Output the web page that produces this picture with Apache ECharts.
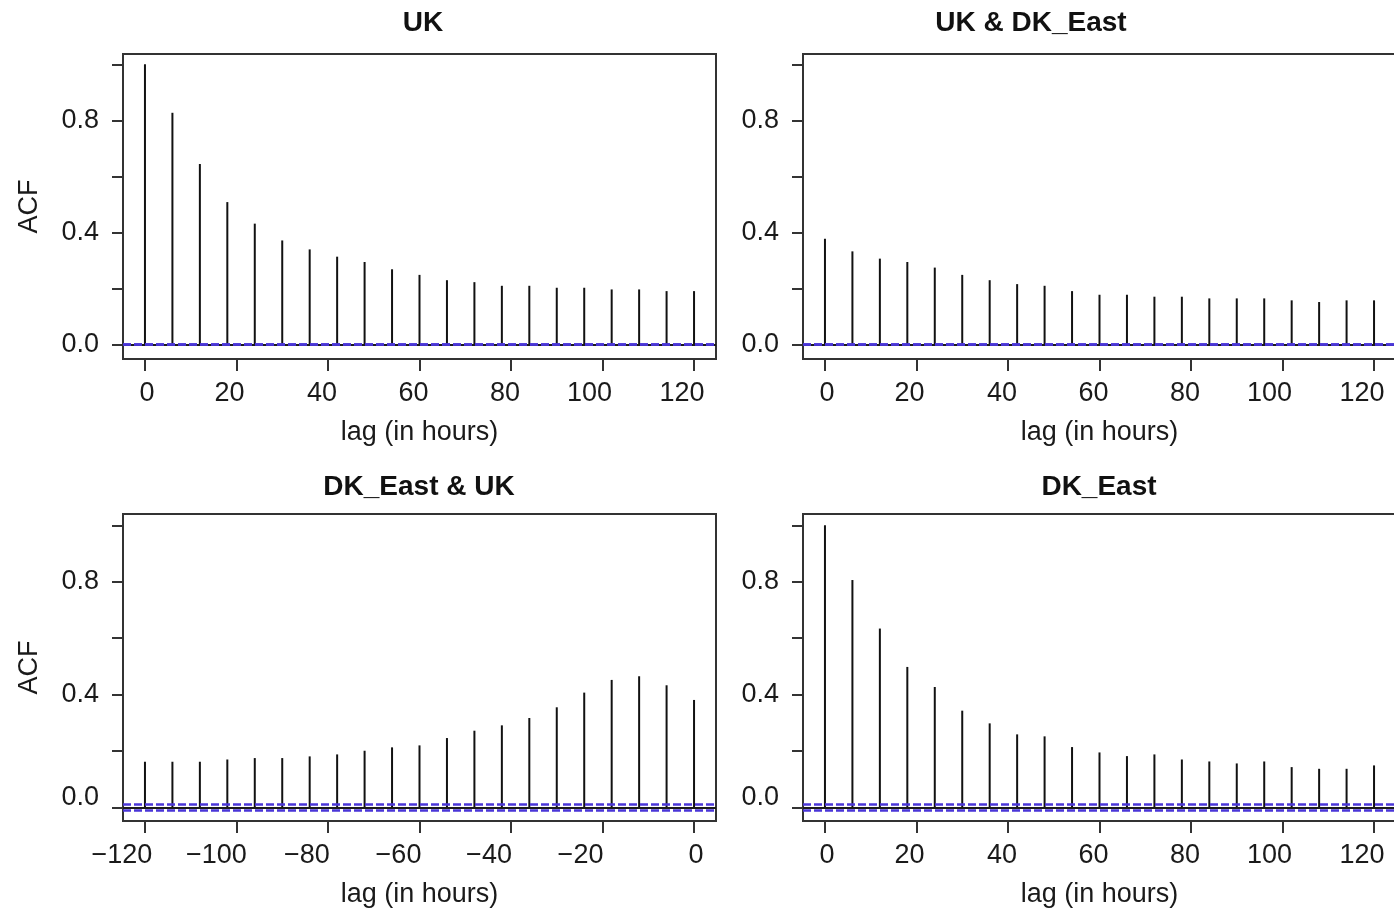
<!DOCTYPE html>
<html>
<head>
<meta charset="utf-8">
<title>ACF UK / DK_East</title>
<script src="https://cdn.jsdelivr.net/npm/echarts@6/dist/echarts.min.js"></script>
<style>
  html, body { margin: 0; padding: 0; background: #ffffff; }
  #chart { width: 1394px; height: 910px; }
</style>
</head>
<body>
<div id="chart"></div>
<script>
// Lags in hours
const lagsPos = [0, 6, 12, 18, 24, 30, 36, 42, 48, 54, 60, 66, 72, 78, 84, 90, 96, 102, 108, 114, 120];
const lagsNeg = [-120, -114, -108, -102, -96, -90, -84, -78, -72, -66, -60, -54, -48, -42, -36, -30, -24, -18, -12, -6, 0];

// Sample (cross-)autocorrelations
const acfUK = [1.000, 0.827, 0.644, 0.508, 0.431, 0.371, 0.339, 0.313, 0.294, 0.268, 0.248,
               0.229, 0.222, 0.209, 0.209, 0.202, 0.202, 0.196, 0.196, 0.190, 0.190];
const acfUKDK = [0.377, 0.332, 0.306, 0.294, 0.274, 0.248, 0.229, 0.215, 0.209, 0.190, 0.177,
                 0.177, 0.170, 0.170, 0.164, 0.164, 0.164, 0.157, 0.151, 0.157, 0.157];
const acfDKUK = [0.162, 0.162, 0.162, 0.170, 0.175, 0.175, 0.181, 0.188, 0.201, 0.213, 0.220,
                 0.246, 0.272, 0.291, 0.317, 0.355, 0.407, 0.452, 0.465, 0.433, 0.381];
const acfDK = [1.000, 0.806, 0.634, 0.498, 0.427, 0.343, 0.298, 0.259, 0.252, 0.214, 0.195,
               0.182, 0.188, 0.170, 0.163, 0.156, 0.163, 0.143, 0.137, 0.137, 0.149];

// Approximate 95% bounds
const ciTop = 0.003;
const ciBottom = 0.008;

// Axis ticks and labels
const xTicksPos = [0, 20, 40, 60, 80, 100, 120];
const xTicksNeg = [-120, -100, -80, -60, -40, -20, 0];
const yTicks = [0, 0.2, 0.4, 0.6, 0.8, 1.0];
const yLabels = [0, 0.4, 0.8];

const panelTitles = ['UK', 'UK & DK_East', 'DK_East & UK', 'DK_East'];

// ---- layout / style ----
const FONT = '"Liberation Sans", Arial, Helvetica, sans-serif';
const INK = '#1a1a1a';
const FRAME = '#333333';
const CI_COLOR = '#4a36d8';

const panels = [
  { left: 123, top: 54,  h: 305, lags: lagsPos, acf: acfUK,   ci: ciTop,    xMin: -4.8,   xMax: 124.8, xt: xTicksPos, yMin: -0.0525, yMax: 1.037, acfName: true,  lowZero: false },
  { left: 803, top: 54,  h: 305, lags: lagsPos, acf: acfUKDK, ci: ciTop,    xMin: -4.8,   xMax: 124.8, xt: xTicksPos, yMin: -0.0525, yMax: 1.037, acfName: false, lowZero: false },
  { left: 123, top: 514, h: 307, lags: lagsNeg, acf: acfDKUK, ci: ciBottom, xMin: -124.8, xMax: 4.8,   xt: xTicksNeg, yMin: -0.048,  yMax: 1.040, acfName: true,  lowZero: true },
  { left: 803, top: 514, h: 307, lags: lagsPos, acf: acfDK,   ci: ciBottom, xMin: -4.8,   xMax: 124.8, xt: xTicksPos, yMin: -0.048,  yMax: 1.040, acfName: false, lowZero: true }
];
const PW = 593;

// small horizontal nudges of the x tick labels (px, negative = left)
const nudgePos = { 0: 2, 20: -7, 40: -6, 60: -6, 80: -6, 100: -13, 120: -12 };
const nudgeNeg = { '-120': -23, '-100': -20, '-80': -21, '-60': -21, '-40': -22, '-20': -22, 0: 2 };

const rich = {
  // "0.0" on the lower panels sits a little above its tick
  up: { fontFamily: FONT, fontSize: 27, color: INK, padding: [0, 0, 20, 0] }
};
function labelStyleKey(d) {
  const key = 'n' + (d < 0 ? 'm' + (-d) : 'p' + d);
  if (!rich[key]) {
    rich[key] = {
      fontFamily: FONT, fontSize: 27, color: INK,
      padding: d < 0 ? [0, -2 * d, 0, 0] : [0, 0, 0, 2 * d]
    };
  }
  return key;
}
function xLabelFormatter(nudges) {
  return function (v) {
    const txt = String(v).replace('-', '\u2212');
    const key = labelStyleKey(nudges[v] || 0);
    return '{' + key + '|' + txt + '}';
  };
}
function yLabelFormatter(lowZero) {
  return function (v) {
    const txt = Number(v).toFixed(1);
    return (lowZero && Math.abs(v) < 1e-9) ? '{up|' + txt + '}' : txt;
  };
}
// pre-register rich styles
[nudgePos, nudgeNeg].forEach(n => Object.keys(n).forEach(k => labelStyleKey(n[k])));

const grids = [], xAxes = [], yAxes = [], series = [], graphics = [];

panels.forEach((p, i) => {
  grids.push({
    left: p.left, top: p.top, width: PW, height: p.h,
    show: true, borderColor: FRAME, borderWidth: 2, backgroundColor: 'transparent',
    containLabel: false, outerBoundsMode: 'none'
  });
  xAxes.push({
    type: 'value', gridIndex: i, min: p.xMin, max: p.xMax,
    name: 'lag (in hours)', nameLocation: 'middle', nameGap: 60,
    nameTextStyle: { fontFamily: FONT, fontSize: 27, color: INK },
    axisLine: { show: true, onZero: false, lineStyle: { color: FRAME, width: 2 } },
    axisTick: { show: true, inside: false, length: 12, customValues: p.xt, lineStyle: { color: FRAME, width: 2 } },
    axisLabel: {
      show: true, margin: 21, customValues: p.xt,
      formatter: xLabelFormatter(p.xt === xTicksNeg ? nudgeNeg : nudgePos),
      rich: rich, fontFamily: FONT, fontSize: 27, color: INK,
      showMinLabel: true, showMaxLabel: true, hideOverlap: false
    },
    splitLine: { show: false }
  });
  yAxes.push({
    type: 'value', gridIndex: i, min: p.yMin, max: p.yMax,
    name: p.acfName ? 'ACF' : '', nameLocation: 'middle', nameGap: 80,
    nameTextStyle: { fontFamily: FONT, fontSize: 27, color: INK },
    axisLine: { show: true, onZero: false, lineStyle: { color: FRAME, width: 2 } },
    axisTick: { show: true, inside: false, length: 11, customValues: yTicks, lineStyle: { color: FRAME, width: 2 } },
    axisLabel: {
      show: true, margin: 24, customValues: yLabels,
      formatter: yLabelFormatter(p.lowZero),
      rich: rich, fontFamily: FONT, fontSize: 27, color: INK,
      showMinLabel: true, showMaxLabel: true, hideOverlap: false
    },
    splitLine: { show: false }
  });
  series.push({
    type: 'bar', xAxisIndex: i, yAxisIndex: i,
    data: p.lags.map((lag, k) => [lag, p.acf[k]]),
    barWidth: 2,
    itemStyle: { color: '#111111' },
    silent: true, animation: false,
    markLine: {
      silent: true, symbol: 'none', animation: false,
      label: { show: false },
      data: [
        { yAxis: 0, lineStyle: { color: INK, width: 2, type: 'solid' } },
        { yAxis: p.ci, lineStyle: { color: CI_COLOR, width: 2.5, type: [8, 3] } },
        { yAxis: -p.ci, lineStyle: { color: CI_COLOR, width: 2.5, type: [8, 3] } }
      ]
    }
  });
});

// panel titles
const titlePos = [[423, 23], [1031, 23], [419, 487], [1099, 487]];
panelTitles.forEach((t, i) => {
  graphics.push({
    type: 'text', x: titlePos[i][0], y: titlePos[i][1], silent: true,
    style: {
      text: t, fill: '#111', font: 'bold 28px ' + FONT,
      textAlign: 'center', textVerticalAlign: 'middle'
    }
  });
});

const chart = echarts.init(document.getElementById('chart'), null, { renderer: 'canvas' });
chart.setOption({
  backgroundColor: '#ffffff',
  animation: false,
  grid: grids,
  xAxis: xAxes,
  yAxis: yAxes,
  series: series,
  graphic: graphics
});
</script>
</body>
</html>
